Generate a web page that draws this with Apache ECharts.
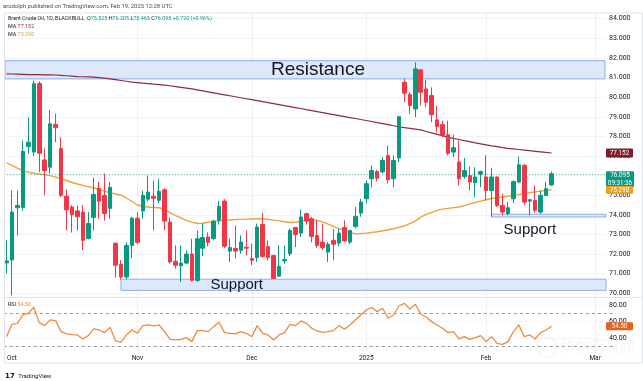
<!DOCTYPE html>
<html><head><meta charset="utf-8">
<script src="https://cdn.jsdelivr.net/npm/echarts@6/dist/echarts.min.js"></script>
<style>html,body{margin:0;padding:0;background:#fff}#c{width:643px;height:381px}</style>
</head><body><div id="c"></div>
<script>
// ---------------- data ----------------
const dates = ['2024-09-30',
'2024-10-01','2024-10-02','2024-10-03','2024-10-04','2024-10-07','2024-10-08','2024-10-09','2024-10-10','2024-10-11','2024-10-14','2024-10-15','2024-10-16','2024-10-17','2024-10-18','2024-10-21','2024-10-22','2024-10-23','2024-10-24','2024-10-25','2024-10-28','2024-10-29','2024-10-30','2024-10-31',
'2024-11-01','2024-11-04','2024-11-05','2024-11-06','2024-11-07','2024-11-08','2024-11-11','2024-11-12','2024-11-13','2024-11-14','2024-11-15','2024-11-18','2024-11-19','2024-11-20','2024-11-21','2024-11-22','2024-11-25','2024-11-26','2024-11-27','2024-11-28','2024-11-29',
'2024-12-02','2024-12-03','2024-12-04','2024-12-05','2024-12-06','2024-12-09','2024-12-10','2024-12-11','2024-12-12','2024-12-13','2024-12-16','2024-12-17','2024-12-18','2024-12-19','2024-12-20','2024-12-23','2024-12-24','2024-12-26','2024-12-27','2024-12-30','2024-12-31',
'2025-01-02','2025-01-03','2025-01-06','2025-01-07','2025-01-08','2025-01-09','2025-01-10','2025-01-13','2025-01-14','2025-01-15','2025-01-16','2025-01-17','2025-01-20','2025-01-21','2025-01-22','2025-01-23','2025-01-24','2025-01-27','2025-01-28','2025-01-29','2025-01-30','2025-01-31',
'2025-02-03','2025-02-04','2025-02-05','2025-02-06','2025-02-07','2025-02-10','2025-02-11','2025-02-12','2025-02-13','2025-02-14','2025-02-17','2025-02-18','2025-02-19'];
const futureDates = ['2025-02-20','2025-02-21','2025-02-24','2025-02-25','2025-02-26','2025-02-27','2025-02-28','2025-03-03','2025-03-04','2025-03-05','2025-03-06'];

const openP = [71.55,
71.70,74.36,74.38,77.48,77.20,80.70,76.80,76.43,78.60,77.38,74.95,74.40,74.20,74.14,72.80,73.87,75.35,74.99,74.33,72.55,71.48,70.83,72.44,
73.83,74.20,74.80,74.94,74.74,75.28,73.63,71.63,71.40,71.54,72.00,70.66,72.30,72.87,72.79,73.72,74.70,72.15,72.28,72.19,72.35,
71.77,71.82,73.51,72.38,71.93,70.87,71.65,72.02,73.35,73.07,74.06,73.80,72.94,72.61,72.10,72.70,72.56,73.35,72.61,73.41,74.09,
74.82,75.84,76.21,76.19,77.03,75.84,76.90,80.76,80.13,79.40,81.39,80.42,80.08,78.84,78.60,78.08,77.20,76.69,75.95,76.00,75.64,76.08,
75.93,75.24,75.93,74.48,74.06,74.82,75.67,76.52,74.70,74.73,74.14,74.99,75.525];
const closeP = [71.65,
74.14,74.48,77.23,77.70,80.68,77.14,76.26,78.64,78.44,74.99,74.26,74.00,73.90,72.70,73.56,75.04,74.70,74.07,75.40,71.43,70.83,72.44,73.83,
72.60,75.00,75.16,74.84,75.20,73.68,71.60,71.43,71.54,72.00,70.66,72.78,72.84,72.60,73.68,74.43,72.40,72.33,72.15,72.61,72.30,
71.68,73.38,71.88,71.82,70.75,71.37,71.72,73.20,73.00,73.89,73.68,72.90,72.44,72.33,72.50,72.50,73.07,72.67,73.20,73.92,74.65,
75.59,76.26,75.87,76.77,75.79,76.77,79.00,80.20,79.57,81.44,80.25,79.74,79.11,78.50,78.04,77.14,77.42,75.84,76.26,75.67,75.93,76.20,
75.24,75.93,74.48,74.14,74.36,75.70,76.55,74.65,74.77,74.23,74.99,75.33,76.095];
const lowP = [71.00,
69.90,72.95,74.20,77.10,77.00,76.18,75.00,76.10,77.70,74.90,73.20,73.10,73.20,72.20,72.75,73.20,73.80,73.70,73.80,70.80,70.70,70.70,71.80,
72.50,73.80,74.70,73.20,74.60,73.20,71.51,71.26,70.57,71.50,70.60,70.57,71.90,72.40,72.70,73.50,72.30,71.60,71.77,72.02,71.93,
71.43,71.60,71.80,71.68,70.75,70.85,71.51,71.90,72.36,72.87,73.50,72.60,72.30,72.20,71.60,71.68,72.40,72.60,72.50,73.30,73.90,
74.57,75.41,75.70,76.10,75.60,75.41,76.69,79.74,79.15,78.98,79.57,79.49,78.72,78.20,77.96,77.03,76.94,75.50,75.84,75.24,74.90,75.41,
74.74,73.90,74.40,73.97,73.97,74.60,75.60,74.50,73.97,74.10,74.05,74.95,75.465];
const highP = [72.70,
75.24,75.24,77.79,78.97,80.85,80.80,77.38,79.35,79.15,77.96,75.30,74.50,74.48,74.50,74.14,75.90,75.67,76.10,75.67,72.60,71.70,72.60,73.90,
74.14,75.24,76.00,75.75,75.84,75.35,73.88,72.44,72.44,72.19,72.78,73.20,73.55,73.10,73.75,74.70,74.80,72.79,73.46,72.95,73.20,
72.53,73.55,74.09,72.70,71.95,72.44,72.44,73.29,73.38,74.26,74.10,73.90,73.72,73.55,72.61,73.29,73.30,73.72,73.24,74.40,74.82,
75.75,76.52,76.30,76.95,77.54,77.03,79.05,80.93,80.25,81.78,81.44,80.88,80.50,79.57,78.80,78.80,78.08,77.79,76.90,76.47,76.43,76.26,
77.03,76.40,75.95,75.08,74.65,75.75,76.97,76.60,74.82,75.50,75.24,75.67,76.205];

const maLong = [81.19,
81.18,81.17,81.16,81.15,81.15,81.15,81.14,81.14,81.13,81.11,81.09,81.07,81.05,81.04,81.03,81.02,81.00,80.97,80.93,80.89,80.85,80.81,80.77,
80.74,80.71,80.69,80.66,80.64,80.61,80.58,80.54,80.50,80.46,80.42,80.37,80.32,80.27,80.22,80.17,80.12,80.07,80.02,79.97,79.92,
79.87,79.82,79.77,79.72,79.67,79.62,79.57,79.52,79.47,79.42,79.36,79.31,79.26,79.21,79.16,79.11,79.06,79.01,78.96,78.91,78.86,
78.81,78.76,78.70,78.65,78.60,78.54,78.49,78.45,78.41,78.37,78.33,78.25,78.18,78.10,78.03,77.95,77.90,77.84,77.78,77.73,77.67,77.62,
77.57,77.52,77.48,77.43,77.39,77.36,77.33,77.30,77.27,77.24,77.21,77.18,77.152];
const maShort = [76.65,
76.52,76.38,76.25,76.17,76.12,76.08,76.04,76.00,75.92,75.84,75.75,75.65,75.57,75.50,75.44,75.37,75.30,75.20,75.13,75.06,75.00,74.86,74.68,
74.50,74.44,74.40,74.37,74.36,74.28,74.10,73.96,73.84,73.72,73.63,73.56,73.57,73.62,73.66,73.69,73.72,73.74,73.76,73.77,73.78,
73.79,73.80,73.80,73.77,73.73,73.69,73.65,73.61,73.62,73.68,73.73,73.75,73.72,73.64,73.53,73.41,73.30,73.20,73.09,73.04,73.05,
73.07,73.10,73.14,73.19,73.24,73.29,73.36,73.43,73.55,73.68,73.88,74.02,74.13,74.23,74.29,74.33,74.37,74.40,74.47,74.56,74.63,74.70,
74.77,74.83,74.87,74.91,74.95,74.99,75.04,75.08,75.13,75.17,75.21,75.25,75.29];
const rsi = [42.0,
56.8,58.0,68.0,70.0,77.2,58.8,55.2,62.0,61.2,48.0,45.2,44.4,44.0,39.2,43.2,51.2,50.0,46.8,53.2,37.2,35.2,44.0,50.0,
46.0,55.2,56.0,54.8,56.0,48.0,38.8,38.0,38.8,40.8,36.0,49.2,49.2,48.0,54.0,59.2,46.8,46.0,45.2,48.0,46.0,
42.0,55.2,46.0,44.0,38.0,44.0,46.8,56.8,55.2,60.8,58.0,52.0,48.8,47.2,48.0,49.2,55.2,50.8,56.0,62.0,68.0,
74.0,77.2,72.0,76.0,64.0,68.0,78.8,82.0,75.2,80.8,69.2,65.2,60.0,56.0,52.0,46.8,48.0,39.2,42.0,38.8,40.8,43.2,
36.0,42.0,34.0,32.8,36.0,48.0,56.0,42.0,44.0,39.2,46.8,50.0,54.5];

const monthStarts = ['2024-10-01','2024-11-01','2024-12-02','2025-01-02','2025-02-03','2025-03-03'];
const monthLabels = ['Oct','Nov','Dec','2025','Feb','Mar'];
const resistanceZone = [80.93, 81.86];
const supportZoneLow = [70.15, 70.72];
const supportZoneHigh = [73.89, 74.03];
const rsiLevels = [70, 30];
const lastPrice = 76.095;
const headerOHLC = {O:'75.525', H:'76.205', L:'75.465', C:'76.095', chg:'+0.720 (+0.96%)'};
const countdown = '09:31:36';

// ---------------- chart ----------------
const cats = dates.concat(futureDates);
const N = cats.length;
const BW = 5.45, L0 = 3.825;
const R0 = 643 - (L0 + N * BW);
const candleData = openP.map((o, i) => [o, closeP[i], lowP[i], highP[i]]);
const UP = '#089981', DOWN = '#f23645';
const F = 'Roboto, "Noto Sans", sans-serif';
const LF = '"Liberation Sans", Arial, sans-serif';

const chart = echarts.init(document.getElementById('c'));
const monthLineData = monthStarts.slice(1).map(d => ({xAxis: d}));

chart.setOption({
  animation: false,
  backgroundColor: '#ffffff',
  grid: [
    {left: L0, right: R0, top: 13, height: 284},
    {left: 5, right: 38, top: 18.7, height: 274.6},
    {left: L0, right: R0, top: 298, height: 53},
    {left: 5, right: 38, top: 305, height: 33.3}
  ],
  xAxis: [
    {type: 'category', gridIndex: 0, data: cats, boundaryGap: true, show: false},
    {type: 'value', gridIndex: 1, min: 0, max: 1, show: false},
    {type: 'category', gridIndex: 2, data: cats, boundaryGap: true,
      axisLine: {show: false}, axisTick: {show: false}, splitLine: {show: false},
      axisLabel: {interval: (i, v) => monthStarts.indexOf(v) >= 0,
        formatter: v => monthLabels[monthStarts.indexOf(v)] || '',
        fontSize: 6.5, color: '#131722', margin: 4, fontFamily: F}},
    {type: 'value', gridIndex: 3, min: 0, max: 1, show: false}
  ],
  yAxis: [
    {type: 'value', gridIndex: 0, min: 69.811, max: 84.29, show: false},
    {type: 'value', gridIndex: 1, min: 70, max: 84, interval: 1, position: 'right',
      axisLine: {show: false}, axisTick: {show: false},
      axisLabel: {formatter: v => v.toFixed(3), fontSize: 7, color: '#131722', margin: 4, fontFamily: F},
      splitLine: {lineStyle: {color: '#f0f3fa', width: 1}}},
    {type: 'value', gridIndex: 2, min: 24.76, max: 88.36, show: false},
    {type: 'value', gridIndex: 3, min: 40, max: 80, interval: 20, position: 'right',
      axisLine: {show: false}, axisTick: {show: false},
      axisLabel: {formatter: v => v.toFixed(2), fontSize: 7, color: '#131722', margin: 4, fontFamily: F},
      splitLine: {lineStyle: {color: '#f5f6f9', width: 1}}}
  ],
  series: [
    { // month grid lines (price pane)
      type: 'line', xAxisIndex: 0, yAxisIndex: 0, data: cats.map(() => null), z: 0, silent: true,
      markLine: {z: 0, silent: true, symbol: 'none', label: {show: false}, animation: false,
        lineStyle: {color: '#eef0f4', type: 'solid', width: 1}, data: monthLineData}
    },
    { // resistance zone
      type: 'line', xAxisIndex: 1, yAxisIndex: 1, data: [], z: 2, silent: true,
      markArea: {z: 1, silent: true,
        itemStyle: {color: '#dde8fb', borderColor: '#8eaee6', borderWidth: 1},
        label: {show: true, position: 'inside', offset: [13, 0], color: '#131722', fontSize: 19, fontFamily: LF},
        data: [[{name: 'Resistance', xAxis: 0, yAxis: resistanceZone[0]}, {xAxis: 1, yAxis: resistanceZone[1]}]]}
    },
    { // support zones
      type: 'line', xAxisIndex: 0, yAxisIndex: 0, data: cats.map(() => null), z: 2, silent: true,
      markArea: {z: 1, silent: true,
        itemStyle: {color: '#dde8fb', borderColor: '#8eaee6', borderWidth: 1},
        data: [
          [{name: 'Support', xAxis: '2024-10-29', yAxis: supportZoneLow[0],
            label: {show: true, position: 'insideLeft', offset: [85, 0], color: '#131722', fontSize: 15, fontFamily: LF}},
           {xAxis: '2025-03-05', yAxis: supportZoneLow[1]}],
          [{name: 'Support', xAxis: '2025-02-04', yAxis: supportZoneHigh[0],
            label: {show: true, position: 'bottom', distance: 5, offset: [-19, 0], color: '#131722', fontSize: 15, fontFamily: LF}},
           {xAxis: '2025-03-05', yAxis: supportZoneHigh[1]}]
        ]}
    },
    {
      name: 'MA long', type: 'line', xAxisIndex: 0, yAxisIndex: 0, data: maLong, z: 3,
      showSymbol: false, symbol: 'none', lineStyle: {color: '#8c2b3c', width: 1.2}, silent: true
    },
    {
      name: 'MA short', type: 'line', xAxisIndex: 0, yAxisIndex: 0, data: maShort, z: 3,
      showSymbol: false, symbol: 'none', lineStyle: {color: '#eba43c', width: 1.4}, silent: true
    },
    {
      name: 'Brent', type: 'candlestick', xAxisIndex: 0, yAxisIndex: 0, data: candleData, z: 4,
      barWidth: 4,
      itemStyle: {color: UP, color0: DOWN, borderColor: UP, borderColor0: DOWN, borderWidth: 1},
      markLine: {silent: true, symbol: 'none', label: {show: false},
        lineStyle: {color: UP, type: [1, 2], width: 1, opacity: 0.7}, data: [{yAxis: lastPrice}]}
    },
    {
      name: 'RSI', type: 'line', xAxisIndex: 2, yAxisIndex: 2, data: rsi, z: 3,
      showSymbol: false, symbol: 'none', lineStyle: {color: '#ef8a43', width: 1.3}, silent: true,
      markLine: {silent: true, symbol: 'none', label: {show: false},
        data: rsiLevels.map(v => ({yAxis: v, lineStyle: {color: '#9598a1', type: [3, 3], width: 1}}))}
    },
    { // month grid lines (RSI pane)
      type: 'line', xAxisIndex: 2, yAxisIndex: 2, data: cats.map(() => null), z: 0, silent: true,
      markLine: {z: 0, silent: true, symbol: 'none', label: {show: false},
        lineStyle: {color: '#eef0f4', type: 'solid', width: 1}, data: monthLineData}
    }
  ]
});

// ---------------- overlays (text, tags, frame) ----------------
const yOf = (v) => chart.convertToPixel({yAxisIndex: 1}, v);
const yRsi = (v) => chart.convertToPixel({yAxisIndex: 3}, v);
const lastMaL = maLong[maLong.length - 1], lastMaS = maShort[maShort.length - 1], lastRsi = rsi[rsi.length - 1];
const TAGX = 606;
function tag(y, h, fill, txt, w) {
  return [{type: 'rect', z: 100, shape: {x: TAGX, y: y - h / 2, width: w || 27, height: h, r: 1}, style: {fill: fill}},
          {type: 'text', z: 101, x: TAGX + (w || 27) / 2, y: y, style: {text: txt, fill: '#fff', font: '6.3px ' + F, align: 'center', verticalAlign: 'middle', lineHeight: 7.5}}];
}
const yP = yOf(lastPrice);
const g = [
  {type: 'rect', z: 50, shape: {x: 4.5, y: 13, width: 638, height: 350}, style: {fill: 'none', stroke: '#e0e3eb', lineWidth: 1}},
  {type: 'line', z: 50, shape: {x1: 5, y1: 297.5, x2: 643, y2: 297.5}, style: {stroke: '#e0e3eb', lineWidth: 1}},
  {type: 'text', z: 100, x: 3, y: 3.3, style: {text: 'arudolph published on TradingView.com, Feb 19, 2025 12:28 UTC', fill: '#4a4a4a', font: '5.9px ' + F}},
  {type: 'text', z: 100, x: 8, y: 16, style: {
    text: '{n|Brent Crude Oil, 1D, BLACKBULL}  {k|O}{v|' + headerOHLC.O + '} {k|H}{v|' + headerOHLC.H + '} {k|L}{v|' + headerOHLC.L + '} {k|C}{v|' + headerOHLC.C + '} {v|' + headerOHLC.chg + '}',
    font: '5.4px ' + F,
    rich: {n: {fill: '#131722', font: '5.4px ' + F}, k: {fill: '#131722', font: '5.4px ' + F}, v: {fill: '#089981', font: '5.4px ' + F}}}},
  {type: 'text', z: 100, x: 8, y: 24.5, style: {text: '{k|MA} {v|' + lastMaL.toFixed(3) + '}', font: '5.4px ' + F,
    rich: {k: {fill: '#131722', font: '5.4px ' + F}, v: {fill: '#8c2b3c', font: '5.4px ' + F}}}},
  {type: 'text', z: 100, x: 8, y: 32.5, style: {text: '{k|MA} {v|' + lastMaS.toFixed(3) + '}', font: '5.4px ' + F,
    rich: {k: {fill: '#131722', font: '5.4px ' + F}, v: {fill: '#e5a033', font: '5.4px ' + F}}}},
  {type: 'text', z: 100, x: 8, y: 302.5, style: {text: '{k|RSI} {v|' + lastRsi.toFixed(2) + '}', font: '5.4px ' + F,
    rich: {k: {fill: '#131722', font: '5.4px ' + F}, v: {fill: '#ef8a43', font: '5.4px ' + F}}}},
  {type: 'text', z: 100, x: 5, y: 370.5, style: {text: '{b|𝟭𝟳} {t|TradingView}', rich: {b: {fill: '#131722', font: 'bold 7px ' + F}, t: {fill: '#131722', font: '6px ' + F}}}},
  {type: 'text', z: 90, x: 560, y: 339, style: {text: '华尔街见闻', fill: 'rgba(215,215,215,0.22)', font: '15px "Noto Sans CJK SC"'}},
  {type: 'circle', z: 90, shape: {cx: 547, cy: 347, r: 10}, style: {fill: 'none', stroke: 'rgba(215,215,215,0.22)', lineWidth: 1.5}}
]
.concat(tag(yOf(lastMaL), 9, '#7f1d2d', lastMaL.toFixed(3)))
.concat(tag(yP + 5.5, 16, '#089981', lastPrice.toFixed(3) + '\n' + countdown, 28))
.concat(tag(yOf(lastMaS) + 0.5, 8, '#eda021', lastMaS.toFixed(3)))
.concat(tag(yRsi(lastRsi), 8, '#e8621c', lastRsi.toFixed(2)));
chart.setOption({graphic: {elements: g}});
</script>
</body></html>
